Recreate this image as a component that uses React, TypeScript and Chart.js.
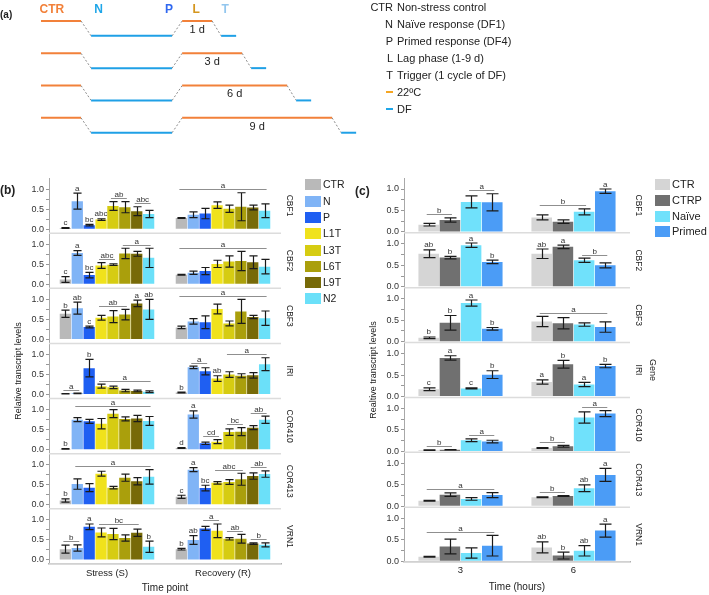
import React, { useEffect, useRef } from 'react';
import { Chart, registerables } from 'chart.js';
Chart.register(...registerables);

const FONT = "'Liberation Sans', Arial, sans-serif";

// ---------------- Panel (a): experimental schedule ----------------
const lagDays = [1, 3, 6, 9];
const ctrPhase = 2.67;      // control period (schematic units, 1 unit = 1 lag day)
const rampDown = 0.67;
const stressPhase = 5.4;
const rampUp = 0.67;
const lagExtra = 1;         // lag bar length = days + lagExtra
const triggerRamp = 0.6;
const triggerPhase = 1;
const dfDrop = 0.46;        // DF level below 22ºC level
const segKinds = ['ctr', 'ramp', 'df', 'ramp', 'ctr', 'ramp', 'df'];
const aLegendKeys = ['CTR', 'N', 'P', 'L', 'T'];
const aLegendTexts = ['Non-stress control', 'Naïve response (DF1)', 'Primed response (DF4)', 'Lag phase (1-9 d)', 'Trigger (1 cycle of DF)'];

// ---------------- Panel (b) ----------------
const bGenes = ['CBF1', 'CBF2', 'CBF3', 'IRI', 'COR410', 'COR413', 'VRN1'];
const bTimePoints = ['Stress (S)', 'Recovery (R)'];
const bTreatments = ['CTR', 'N', 'P', 'L1T', 'L3T', 'L6T', 'L9T', 'N2'];
const bColors = ['#b9b9b9', '#80b4f6', '#1f5ff2', '#f0e21c', '#d6cc12', '#aa9f0c', '#776a08', '#6be0f9'];

const bMeanCBF1 = [[0.03, 0.70, 0.10, 0.24, 0.58, 0.55, 0.45, 0.38], [0.28, 0.36, 0.39, 0.60, 0.51, 0.56, 0.54, 0.46]];
const bErrCBF1 = [[0.01, 0.20, 0.02, 0.02, 0.11, 0.14, 0.11, 0.09], [0.01, 0.07, 0.13, 0.08, 0.09, 0.35, 0.06, 0.17]];
const bSigCBF1 = [[0, 0, 0, 'c'], [0, 1, 1, 'a'], [0, 2, 2, 'bc'], [0, 3, 3, 'abc'], [0, 4, 5, 'ab'], [0, 6, 7, 'abc'], [1, 0, 7, 'a']];

const bMeanCBF2 = [[0.12, 0.78, 0.23, 0.47, 0.49, 0.77, 0.76, 0.66], [0.24, 0.29, 0.33, 0.51, 0.57, 0.58, 0.55, 0.44]];
const bErrCBF2 = [[0.07, 0.06, 0.07, 0.07, 0.02, 0.13, 0.06, 0.24], [0.01, 0.04, 0.09, 0.09, 0.14, 0.24, 0.16, 0.18]];
const bSigCBF2 = [[0, 0, 0, 'c'], [0, 1, 1, 'a'], [0, 2, 2, 'bc'], [0, 3, 4, 'abc'], [0, 5, 7, 'a'], [1, 0, 7, 'a']];

const bMeanCBF3 = [[0.64, 0.78, 0.31, 0.54, 0.57, 0.62, 0.90, 0.75], [0.30, 0.45, 0.43, 0.76, 0.40, 0.70, 0.56, 0.53]];
const bErrCBF3 = [[0.09, 0.15, 0.02, 0.06, 0.15, 0.13, 0.08, 0.25], [0.03, 0.07, 0.16, 0.12, 0.06, 0.30, 0.04, 0.18]];
const bSigCBF3 = [[0, 0, 0, 'b'], [0, 1, 1, 'ab'], [0, 2, 2, 'c'], [0, 3, 5, 'ab'], [0, 6, 6, 'a'], [0, 7, 7, 'ab'], [1, 0, 7, 'a']];

const bMeanIRI = [[0.02, 0.03, 0.66, 0.21, 0.18, 0.10, 0.09, 0.07], [0.05, 0.68, 0.58, 0.40, 0.50, 0.47, 0.48, 0.76]];
const bErrIRI = [[0.005, 0.005, 0.22, 0.05, 0.03, 0.03, 0.02, 0.02], [0.01, 0.03, 0.09, 0.07, 0.07, 0.05, 0.07, 0.16]];
const bSigIRI = [[0, 0, 1, 'a'], [0, 2, 2, 'b'], [0, 3, 7, 'a'], [1, 0, 0, 'b'], [1, 1, 2, 'a'], [1, 3, 3, 'ab'], [1, 4, 7, 'a']];

const bMeanCOR410 = [[0.02, 0.75, 0.71, 0.65, 0.90, 0.77, 0.78, 0.72], [0.04, 0.88, 0.16, 0.20, 0.44, 0.45, 0.55, 0.75]];
const bErrCOR410 = [[0.005, 0.05, 0.05, 0.13, 0.10, 0.05, 0.08, 0.11], [0.01, 0.09, 0.03, 0.05, 0.08, 0.10, 0.05, 0.09]];
const bSigCOR410 = [[0, 0, 0, 'b'], [0, 1, 7, 'a'], [1, 0, 0, 'd'], [1, 1, 1, 'a'], [1, 2, 3, 'cd'], [1, 4, 5, 'bc'], [1, 6, 7, 'ab']];

const bMeanCOR413 = [[0.11, 0.52, 0.43, 0.78, 0.43, 0.68, 0.59, 0.70], [0.20, 0.88, 0.42, 0.55, 0.57, 0.64, 0.72, 0.77]];
const bErrCOR413 = [[0.04, 0.13, 0.10, 0.06, 0.03, 0.09, 0.09, 0.18], [0.04, 0.05, 0.07, 0.03, 0.06, 0.15, 0.08, 0.08]];
const bSigCOR413 = [[0, 0, 0, 'b'], [0, 1, 7, 'a'], [1, 0, 0, 'c'], [1, 1, 1, 'a'], [1, 2, 2, 'bc'], [1, 3, 5, 'abc'], [1, 6, 7, 'ab']];

const bMeanVRN1 = [[0.27, 0.30, 0.83, 0.69, 0.65, 0.55, 0.68, 0.33], [0.27, 0.50, 0.79, 0.73, 0.53, 0.53, 0.41, 0.38]];
const bErrVRN1 = [[0.10, 0.08, 0.07, 0.11, 0.14, 0.08, 0.09, 0.14], [0.02, 0.11, 0.05, 0.17, 0.03, 0.11, 0.02, 0.05]];
const bSigVRN1 = [[0, 0, 1, 'b'], [0, 2, 2, 'a'], [0, 3, 6, 'bc'], [0, 7, 7, 'b'], [1, 0, 0, 'b'], [1, 1, 1, 'ab'], [1, 2, 3, 'a'], [1, 4, 5, 'ab'], [1, 6, 7, 'b']];

// ---------------- Panel (c) ----------------
const cGenes = ['CBF1', 'CBF2', 'CBF3', 'IRI', 'COR410', 'COR413', 'VRN1'];
const cHours = ['3', '6'];
const cTreatments = ['CTR', 'CTRP', 'Naïve', 'Primed'];
const cColors = ['#d5d5d5', '#707070', '#70e1fb', '#4b9cf6'];

const cMeanCBF1 = [[0.17, 0.28, 0.70, 0.69], [0.34, 0.24, 0.47, 0.95]];
const cErrCBF1 = [[0.03, 0.05, 0.14, 0.20], [0.06, 0.04, 0.07, 0.05]];
const cSigCBF1 = [[0, 0, 1, 'b'], [0, 2, 3, 'a'], [1, 0, 2, 'b'], [1, 3, 3, 'a']];

const cMeanCBF2 = [[0.77, 0.68, 0.97, 0.58], [0.77, 0.93, 0.62, 0.50]];
const cErrCBF2 = [[0.09, 0.03, 0.05, 0.04], [0.11, 0.04, 0.05, 0.06]];
const cSigCBF2 = [[0, 0, 0, 'ab'], [0, 1, 1, 'b'], [0, 2, 2, 'a'], [0, 3, 3, 'b'], [1, 0, 0, 'ab'], [1, 1, 1, 'a'], [1, 2, 3, 'b']];

const cMeanCBF3 = [[0.09, 0.44, 0.90, 0.30], [0.47, 0.43, 0.40, 0.34]];
const cErrCBF3 = [[0.02, 0.17, 0.07, 0.03], [0.12, 0.13, 0.04, 0.12]];
const cSigCBF3 = [[0, 0, 0, 'b'], [0, 1, 1, 'b'], [0, 2, 2, 'a'], [0, 3, 3, 'b'], [1, 0, 3, 'a']];

const cMeanIRI = [[0.17, 0.90, 0.19, 0.51], [0.34, 0.75, 0.28, 0.71]];
const cErrIRI = [[0.03, 0.05, 0.01, 0.09], [0.05, 0.09, 0.05, 0.04]];
const cSigIRI = [[0, 0, 0, 'c'], [0, 1, 1, 'a'], [0, 2, 2, 'c'], [0, 3, 3, 'b'], [1, 0, 0, 'a'], [1, 1, 1, 'b'], [1, 2, 2, 'a'], [1, 3, 3, 'b']];

const cMeanCOR410 = [[0.03, 0.04, 0.26, 0.23], [0.08, 0.12, 0.79, 0.88]];
const cErrCOR410 = [[0.005, 0.005, 0.03, 0.03], [0.01, 0.02, 0.13, 0.07]];
const cSigCOR410 = [[0, 0, 1, 'b'], [0, 2, 3, 'a'], [1, 0, 1, 'b'], [1, 2, 3, 'a']];

const cMeanCOR413 = [[0.13, 0.27, 0.17, 0.26], [0.21, 0.24, 0.42, 0.73]];
const cErrCOR413 = [[0.01, 0.04, 0.03, 0.06], [0.01, 0.01, 0.08, 0.15]];
const cSigCOR413 = [[0, 0, 3, 'a'], [1, 0, 1, 'b'], [1, 2, 2, 'ab'], [1, 3, 3, 'a']];

const cMeanVRN1 = [[0.10, 0.34, 0.19, 0.36], [0.32, 0.13, 0.24, 0.71]];
const cErrVRN1 = [[0.01, 0.17, 0.12, 0.24], [0.13, 0.08, 0.12, 0.15]];
const cSigVRN1 = [[0, 0, 3, 'a'], [1, 0, 0, 'ab'], [1, 1, 1, 'b'], [1, 2, 2, 'ab'], [1, 3, 3, 'a']];

const yTickValues = [0, 0.25, 0.5, 0.75, 1];

type Panel = {
  genes: string[]; groups: string[]; treatments: string[]; colors: string[];
  means: number[][][]; errs: number[][][]; sigs: any[][];
  yMin: number; yMax: number; padding: any; xAxisHeight: number; tickPad: number;
  xTitle: string; xTitlePad: number; yTitle: string; barPct: number; catPct: number;
};

function buildBarChart(canvas: HTMLCanvasElement, p: Panel) {
  const nT = p.treatments.length;
  const datasets: any[] = [];
  p.genes.forEach((_gene, g) => {
    p.treatments.forEach((tr, t) => {
      datasets.push({
        label: tr,
        data: p.groups.map((_, k) => p.means[g][k][t]),
        errors: p.groups.map((_, k) => p.errs[g][k][t]),
        backgroundColor: p.colors[t],
        borderWidth: 0,
        yAxisID: 'y' + g,
        stack: tr,
        barPercentage: p.barPct,
        categoryPercentage: p.catPct,
      });
    });
  });
  const scales: any = {
    x: {
      type: 'category',
      grid: { display: false, drawTicks: false },
      border: { display: true, color: '#b0b0b0', width: 1.5 },
      ticks: { font: { size: 9.5, family: FONT }, color: '#222', padding: p.tickPad },
      title: { display: true, text: p.xTitle, font: { size: 10, family: FONT }, color: '#222', padding: { top: 0, bottom: p.xTitlePad } },
      afterFit: (s: any) => { s.height = p.xAxisHeight; },
    },
  };
  // stacked left axes are laid out last-defined on top, so define them bottom-up
  for (let g = p.genes.length - 1; g >= 0; g--) {
    scales['y' + g] = {
      type: 'linear', position: 'left', stack: 'genes', stackWeight: 1,
      min: p.yMin, max: p.yMax,
      afterBuildTicks: (s: any) => { s.ticks = yTickValues.map((v) => ({ value: v })); },
      afterFit: (s: any) => { s.width = 26; },
      grid: { drawOnChartArea: false, drawTicks: true, tickLength: 3, color: '#999' },
      border: { display: true, color: '#a8a8a8', width: 1 },
      ticks: {
        autoSkip: false,
        font: { size: 9, family: FONT }, color: '#333', padding: 2,
        callback: (v: any) => (v === 0 || v === 0.5 || v === 1 ? Number(v).toFixed(1) : ''),
      },
    };
  }

  const deco = {
    id: 'deco',
    beforeDatasetsDraw(chart: any) {
      const { ctx, chartArea } = chart;
      ctx.save();
      ctx.strokeStyle = '#dcdcdc';
      ctx.lineWidth = 1.5;
      p.genes.forEach((_g, g) => {
        const s = chart.scales['y' + g];
        ctx.beginPath();
        ctx.moveTo(chartArea.left, s.bottom);
        ctx.lineTo(chartArea.right, s.bottom);
        ctx.stroke();
      });
      ctx.restore();
    },
    afterDatasetsDraw(chart: any) {
      const { ctx, chartArea } = chart;
      ctx.save();
      // error bars
      chart.data.datasets.forEach((ds: any, i: number) => {
        const meta = chart.getDatasetMeta(i);
        const ys = chart.scales[ds.yAxisID];
        meta.data.forEach((el: any, j: number) => {
          const m = ds.data[j];
          const e = ds.errors[j];
          const yt = ys.getPixelForValue(m + e);
          const yb = ys.getPixelForValue(Math.max(m - e, 0));
          const half = Math.min(el.width * 0.36, 6);
          const x = Math.round(el.x) + 0.5;
          ctx.strokeStyle = '#1b1b1b';
          ctx.lineWidth = 1.2;
          ctx.beginPath();
          ctx.moveTo(x, yt); ctx.lineTo(x, yb);
          ctx.moveTo(x - half, yt); ctx.lineTo(x + half, yt);
          ctx.moveTo(x - half, yb); ctx.lineTo(x + half, yb);
          ctx.stroke();
        });
      });
      // significance letters
      ctx.font = '8px ' + FONT;
      ctx.textAlign = 'center';
      ctx.textBaseline = 'alphabetic';
      p.sigs.forEach((list: any[], g: number) => {
        const ys = chart.scales['y' + g];
        list.forEach(([k, from, to, txt]: any) => {
          const els: any[] = [];
          let top = Infinity;
          for (let t = from; t <= to; t++) {
            const el = chart.getDatasetMeta(g * nT + t).data[k];
            const v = p.means[g][k][t] + p.errs[g][k][t];
            top = Math.min(top, ys.getPixelForValue(v), el.y);
            els.push(el);
          }
          ctx.fillStyle = '#333';
          if (from === to) {
            ctx.fillText(txt, els[0].x, top - 2.5);
          } else {
            const ly = Math.round(top - 3.5) + 0.5;
            ctx.strokeStyle = '#8f8f8f';
            ctx.lineWidth = 1;
            ctx.beginPath();
            ctx.moveTo(els[0].x - 2, ly);
            ctx.lineTo(els[els.length - 1].x + 2, ly);
            ctx.stroke();
            ctx.fillText(txt, (els[0].x + els[els.length - 1].x) / 2, ly - 2);
          }
        });
      });
      // gene labels
      ctx.fillStyle = '#222';
      ctx.textBaseline = 'middle';
      p.genes.forEach((gname, g) => {
        const s = chart.scales['y' + g];
        ctx.save();
        ctx.translate(chartArea.right + 8, (s.top + s.bottom) / 2);
        ctx.rotate(Math.PI / 2);
        ctx.font = '8.5px ' + FONT;
        ctx.fillText(gname, 0, 0);
        ctx.restore();
      });
      const midY = (chartArea.top + chartArea.bottom) / 2;
      ctx.save();
      ctx.translate(chartArea.right + 22, midY);
      ctx.rotate(Math.PI / 2);
      ctx.font = '9px ' + FONT;
      ctx.fillText('Gene', 0, 0);
      ctx.restore();
      ctx.save();
      ctx.translate(chartArea.left - 30, midY);
      ctx.rotate(-Math.PI / 2);
      ctx.font = '9px ' + FONT;
      ctx.fillText(p.yTitle, 0, 0);
      ctx.restore();
      ctx.restore();
    },
  };

  return new Chart(canvas, {
    type: 'bar',
    data: { labels: p.groups, datasets },
    options: {
      animation: false,
      responsive: false,
      devicePixelRatio: 1,
      layout: { padding: p.padding },
      plugins: { legend: { display: false }, tooltip: { enabled: false } },
      scales,
    } as any,
    plugins: [deco],
  });
}

function buildSchedule(canvas: HTMLCanvasElement) {
  const segStyle: any = {
    ctr: { color: '#f2813a', width: 2, dash: [] },
    df: { color: '#1fa0e6', width: 2, dash: [] },
    ramp: { color: '#8a8a8a', width: 1, dash: [2, 2] },
  };
  const rows = lagDays.map((d, i) => {
    const x0 = 0;
    const x1 = x0 + ctrPhase;
    const x2 = x1 + rampDown;
    const x3 = x2 + stressPhase;
    const x4 = x3 + rampUp;
    const x5 = x4 + d + lagExtra;
    const x6 = x5 + triggerRamp;
    const x7 = x6 + triggerPhase;
    const hi = i, lo = i + dfDrop;
    return { d, xs: [x0, x1, x2, x3, x4, x5, x6, x7], ys: [hi, hi, lo, lo, hi, hi, lo, lo] };
  });
  const datasets = rows.map((r) => ({
    data: r.xs.map((x, k) => ({ x, y: r.ys[k] })),
    pointRadius: 0,
    tension: 0,
    borderWidth: 2,
    segment: {
      borderColor: (c: any) => segStyle[segKinds[c.p0DataIndex]].color,
      borderWidth: (c: any) => segStyle[segKinds[c.p0DataIndex]].width,
      borderDash: (c: any) => segStyle[segKinds[c.p0DataIndex]].dash,
    },
  }));
  const labels = {
    id: 'schedLabels',
    afterDatasetsDraw(chart: any) {
      const { ctx } = chart;
      const xs = chart.scales.x, ys = chart.scales.y;
      ctx.save();
      ctx.textBaseline = 'middle';
      ctx.textAlign = 'center';
      ctx.fillStyle = '#222';
      ctx.font = '11px ' + FONT;
      rows.forEach((r, i) => {
        ctx.fillText(r.d + ' d', xs.getPixelForValue((r.xs[4] + r.xs[5]) / 2), ys.getPixelForValue(i + 0.27));
      });
      const r0 = rows[0];
      const topY = ys.getPixelForValue(-0.35);
      ctx.font = 'bold 12px ' + FONT;
      const marks: [string, number, string][] = [
        ['CTR', r0.xs[0] + 0.72, '#f2813a'],
        ['N', r0.xs[2] + 0.5, '#1fa6e8'],
        ['P', r0.xs[3] - 0.2, '#3068f0'],
        ['L', r0.xs[4] + 0.93, '#d4961e'],
        ['T', r0.xs[6] + 0.27, '#92c6ee'],
      ];
      marks.forEach(([t, x, c]) => {
        ctx.fillStyle = c;
        ctx.fillText(t, xs.getPixelForValue(x), topY);
      });
      ctx.restore();
    },
  };
  return new Chart(canvas, {
    type: 'line',
    data: { datasets },
    options: {
      animation: false,
      responsive: false,
      devicePixelRatio: 1,
      layout: { padding: 0 },
      plugins: { legend: { display: false }, tooltip: { enabled: false } },
      scales: {
        x: { type: 'linear', display: false, min: -2.733, max: 21.267 },
        y: { type: 'linear', display: false, reverse: true, min: -0.65, max: 3.84 },
      },
    } as any,
    plugins: [labels],
  });
}

const bPanel: Panel = {
  genes: bGenes, groups: bTimePoints, treatments: bTreatments, colors: bColors,
  means: [bMeanCBF1, bMeanCBF2, bMeanCBF3, bMeanIRI, bMeanCOR410, bMeanCOR413, bMeanVRN1],
  errs: [bErrCBF1, bErrCBF2, bErrCBF3, bErrIRI, bErrCOR410, bErrCOR413, bErrVRN1],
  sigs: [bSigCBF1, bSigCBF2, bSigCBF3, bSigIRI, bSigCOR410, bSigCOR413, bSigVRN1],
  yMin: -0.1, yMax: 1.278,
  padding: { left: 23, top: 8, right: 19, bottom: 0 },
  xAxisHeight: 31, tickPad: 4, xTitle: 'Time point', xTitlePad: 1,
  yTitle: 'Relative transcript levels', barPct: 0.95, catPct: 0.82,
};

const cPanel: Panel = {
  genes: cGenes, groups: cHours, treatments: cTreatments, colors: cColors,
  means: [cMeanCBF1, cMeanCBF2, cMeanCBF3, cMeanIRI, cMeanCOR410, cMeanCOR413, cMeanVRN1],
  errs: [cErrCBF1, cErrCBF2, cErrCBF3, cErrIRI, cErrCOR410, cErrCOR413, cErrVRN1],
  sigs: [cSigCBF1, cSigCBF2, cSigCBF3, cSigIRI, cSigCOR410, cSigCOR413, cSigVRN1],
  yMin: -0.02, yMax: 1.256,
  padding: { left: 18, top: 8, right: 30, bottom: 0 },
  xAxisHeight: 33, tickPad: 3, xTitle: 'Time (hours)', xTitlePad: 1.4,
  yTitle: 'Realtive transcript levels', barPct: 0.97, catPct: 0.75,
};

const abs = (left: number, top: number, extra: any = {}): React.CSSProperties => ({ position: 'absolute', left, top, ...extra });

export default function App() {
  const aRef = useRef<HTMLCanvasElement>(null);
  const bRef = useRef<HTMLCanvasElement>(null);
  const cRef = useRef<HTMLCanvasElement>(null);
  useEffect(() => {
    const charts = [
      buildSchedule(aRef.current!),
      buildBarChart(bRef.current!, bPanel),
      buildBarChart(cRef.current!, cPanel),
    ];
    return () => charts.forEach((c) => c.destroy());
  }, []);

  const txt = { fontFamily: FONT, color: '#222', whiteSpace: 'nowrap' as const };
  return (
    <div style={{ position: 'absolute', left: 0, top: 0, width: 709, height: 595, background: '#fff', overflow: 'hidden' }}>
      <canvas ref={aRef} width={360} height={145} style={abs(0, 0)} />
      <canvas ref={bRef} width={300} height={425} style={abs(0, 170)} />
      <canvas ref={cRef} width={300} height={425} style={abs(360, 170)} />

      <div style={abs(0, 8, { ...txt, fontSize: 10, fontWeight: 'bold', lineHeight: '14px' })}>(a)</div>
      <div style={abs(0, 183, { ...txt, fontSize: 12, fontWeight: 'bold', lineHeight: '14px' })}>(b)</div>
      <div style={abs(355, 184, { ...txt, fontSize: 12, fontWeight: 'bold', lineHeight: '14px' })}>(c)</div>

      {aLegendKeys.map((k, i) => (
        <div key={k} style={abs(0, 7.3 + 17 * i - 8, { ...txt, fontSize: 11, lineHeight: '16px', width: 709 })}>
          <span style={{ position: 'absolute', right: 709 - 393, top: 0 }}>{k}</span>
          <span style={{ position: 'absolute', left: 397, top: 0 }}>{aLegendTexts[i]}</span>
        </div>
      ))}
      {[['#f5a623', '22ºC'], ['#1fa6e8', 'DF']].map(([c, t], i) => (
        <div key={t} style={abs(0, 7.3 + 17 * (5 + i) - 8, { ...txt, fontSize: 11, lineHeight: '16px', width: 709 })}>
          <span style={{ position: 'absolute', left: 386, top: 7, width: 7, borderTop: `2px dashed ${c}` }} />
          <span style={{ position: 'absolute', left: 397, top: 0 }}>{t}</span>
        </div>
      ))}

      {bTreatments.map((t, i) => (
        <div key={t} style={abs(305, 179.3 + 16.3 * i, { ...txt, fontSize: 10.5, lineHeight: '11px', height: 11 })}>
          <span style={{ position: 'absolute', left: 0, top: 0, width: 16, height: 11, background: bColors[i] }} />
          <span style={{ position: 'absolute', left: 18, top: 0 }}>{t}</span>
        </div>
      ))}
      {cTreatments.map((t, i) => (
        <div key={t} style={abs(655, 179.3 + 15.7 * i, { ...txt, fontSize: 11, lineHeight: '11px', height: 11 })}>
          <span style={{ position: 'absolute', left: 0, top: 0, width: 15, height: 11, background: cColors[i] }} />
          <span style={{ position: 'absolute', left: 17, top: 0 }}>{t}</span>
        </div>
      ))}
    </div>
  );
}
